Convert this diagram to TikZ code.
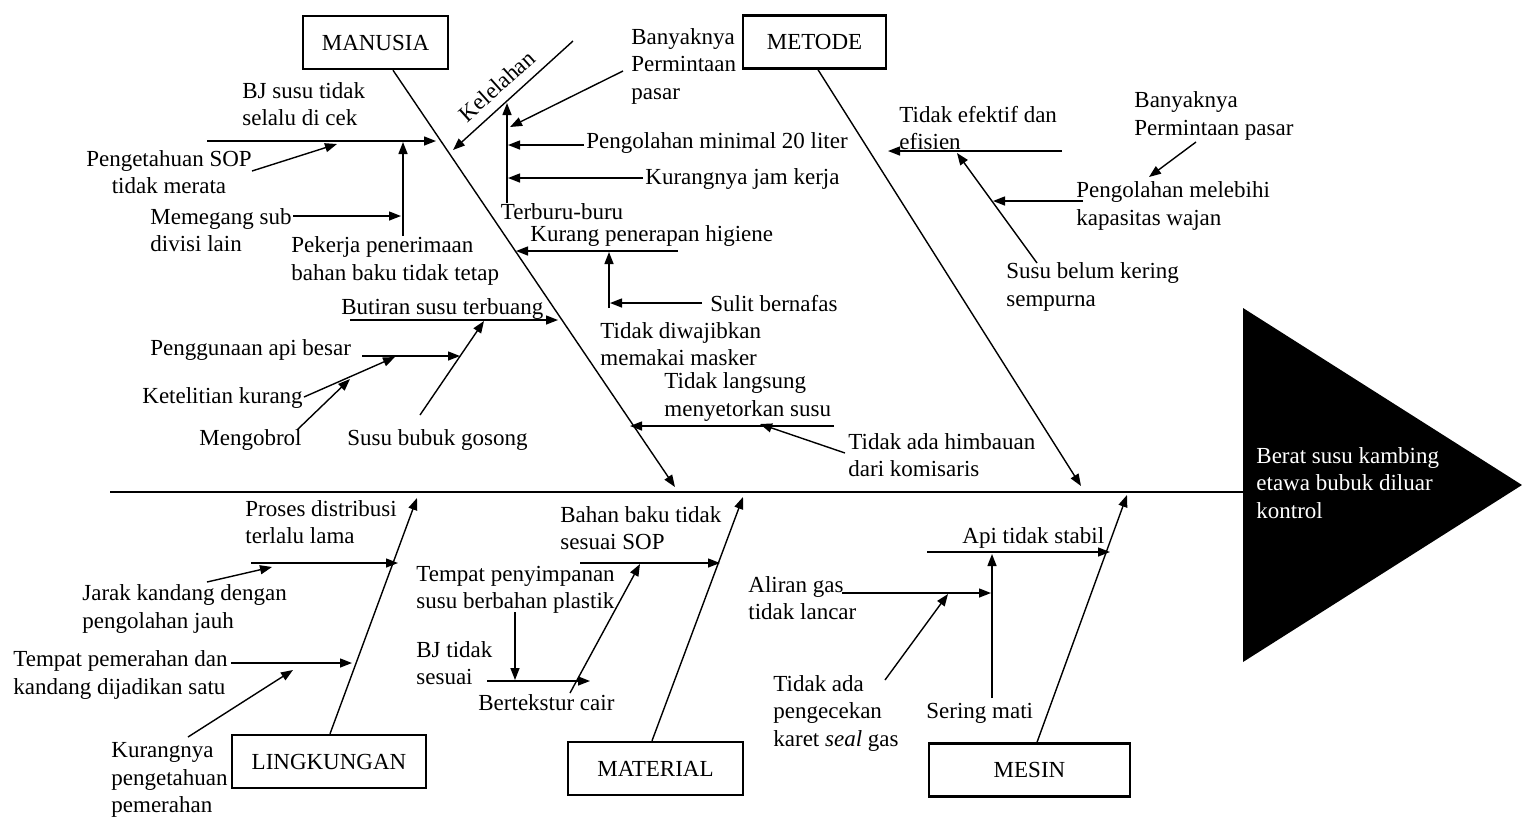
\documentclass[tikz,border=0pt]{standalone}
\usepackage{fontspec}
\setmainfont{Liberation Serif}
\usetikzlibrary{arrows.meta}
\begin{document}
\begin{tikzpicture}[x=0.5pt,y=-0.5pt,
  every node/.style={font=\fontsize{11.5}{13.75}\selectfont, inner sep=0pt},
  lbl/.style={anchor=west, align=left},
  cbox/.style={draw, line width=1.2pt, minimum height=26.5pt, inner sep=0pt},
  arr/.style={-{Triangle[length=6pt,width=4.5pt]}, line width=0.7pt},
  ln/.style={line width=0.7pt},
  spine/.style={line width=1pt}]
\useasboundingbox (0,0) rectangle (1522,816);

% ---------- head ----------
\fill (1243,308) coordinate (hT) -- (1522,485) coordinate (hR) -- (1243,662) coordinate (hB) -- cycle;
\coordinate (headW) at (1243,492);
\node[lbl, text=white] (effect) at (1256,483) {Berat susu kambing\\etawa bubuk diluar\\kontrol};
\coordinate (spineL) at (110,492);
\draw[spine] (spineL) -- (headW);

% ---------- category boxes ----------
\node[cbox, minimum width=72.5pt] (manusia) at (375.5,42.5) {MANUSIA};
\node[cbox, minimum width=71.5pt] (metode) at (814.5,42) {METODE};
\node[cbox, minimum width=97pt] (lingkungan) at (329,761.5) {LINGKUNGAN};
\node[cbox, minimum width=87.5pt] (material) at (655.5,768.5) {MATERIAL};
\node[cbox, minimum width=100.5pt] (mesin) at (1029.5,770) {MESIN};

% ---------- main bones ----------
\coordinate (manE) at (675,487);
\coordinate (metE) at (1081,486);
\coordinate (linE) at (417,498);
\coordinate (matE) at (743,497);
\coordinate (mesE) at (1127,495);
\draw[arr] ([xshift=8.75pt]manusia.south) -- (manE);
\draw[arr] ([xshift=1.75pt]metode.south) -- (metE);
\draw[arr] ([xshift=0.5pt]lingkungan.north) -- (linE);
\draw[arr] ([xshift=-1.75pt]material.north) -- (matE);
\draw[arr] ([xshift=3.75pt]mesin.north) -- (mesE);

% ================= MANUSIA =================
\node[lbl] (bj) at (242,104) {BJ susu tidak\\selalu di cek};
\coordinate (bjA) at (207,141); \coordinate (bjB) at (436,141);
\draw[arr] (bjA) -- (bjB);

\node[align=center] (sop) at (169,172) {Pengetahuan SOP\\tidak merata};
\coordinate (sopA) at (252,171); \coordinate (sopB) at (337,144);
\draw[arr] (sopA) -- (sopB);

\node[lbl] (memegang) at (150,230) {Memegang sub\\divisi lain};
\coordinate (memA) at (293,216); \coordinate (memB) at (401,216);
\draw[arr] (memA) -- (memB);

\node[lbl] (pekerja) at (291,261) {Pekerja penerimaan\\bahan baku tidak tetap};
\coordinate (pekA) at (403,236); \coordinate (pekB) at (403,142);
\draw[arr] (pekA) -- (pekB);

\coordinate (kelA) at (573,41); \coordinate (kelB) at (453,150);
\draw[arr] (kelA) -- (kelB);
\node[rotate=42] (kelelahan) at (497,86) {Kelelahan};

\node (terburu) at (562,212) {Terburu-buru};
\coordinate (terA) at (507,203); \coordinate (terB) at (507,103);
\draw[arr] (terA) -- (terB);

\node[lbl] (banyak1) at (631,66) {Banyaknya\\Permintaan\\pasar};
\coordinate (ban1A) at (623,71); \coordinate (ban1B) at (510,127);
\draw[arr] (ban1A) -- (ban1B);

\node[lbl] (pengmin) at (586,143) {Pengolahan minimal 20 liter};
\coordinate (pmA) at (584,145); \coordinate (pmB) at (508,145);
\draw[arr] (pmA) -- (pmB);

\node[lbl] (jamkerja) at (645,179) {Kurangnya jam kerja};
\coordinate (jkA) at (643,178); \coordinate (jkB) at (508,178);
\draw[arr] (jkA) -- (jkB);

\node[lbl] (higiene) at (530,236) {Kurang penerapan higiene};
\coordinate (higA) at (678,251); \coordinate (higB) at (516,251);
\draw[arr] (higA) -- (higB);

\coordinate (maskA) at (609,308); \coordinate (maskB) at (609,252);
\draw[arr] (maskA) -- (maskB);

\node[lbl] (sulit) at (710,304) {Sulit bernafas};
\coordinate (sulA) at (702,303); \coordinate (sulB) at (610,303);
\draw[arr] (sulA) -- (sulB);

\node[lbl] (wajib) at (600,344) {Tidak diwajibkan\\memakai masker};

\node[lbl] (butiran) at (341,309) {Butiran susu terbuang};
\coordinate (butA) at (350,320); \coordinate (butB) at (558,320);
\draw[arr] (butA) -- (butB);

\node[lbl] (api) at (150,350) {Penggunaan api besar};
\coordinate (apiA) at (362,356); \coordinate (apiB) at (460,356);
\draw[arr] (apiA) -- (apiB);

\node[lbl] (teliti) at (142,398) {Ketelitian kurang};
\coordinate (telA) at (304,397); \coordinate (telB) at (395,357);
\draw[arr] (telA) -- (telB);

\node[lbl] (ngobrol) at (199,440) {Mengobrol};
\coordinate (ngA) at (297,430); \coordinate (ngB) at (350,379);
\draw[arr] (ngA) -- (ngB);

\node[lbl] (gosong) at (347,440) {Susu bubuk gosong};
\coordinate (gosA) at (420,415); \coordinate (gosB) at (484,321);
\draw[arr] (gosA) -- (gosB);

\node[lbl] (langsung) at (664,397) {Tidak langsung\\menyetorkan susu};
\coordinate (lgA) at (834,426); \coordinate (lgB) at (630,426);
\draw[arr] (lgA) -- (lgB);

\node[lbl] (himbauan) at (848,455) {Tidak ada himbauan\\dari komisaris};
\coordinate (hiA) at (845,453); \coordinate (hiB) at (760,424);
\draw[arr] (hiA) -- (hiB);

% ================= METODE =================
\node[lbl] (efektif) at (899,128) {Tidak efektif dan\\efisien};
\coordinate (efA) at (1062,151); \coordinate (efB) at (888,151);
\draw[arr] (efA) -- (efB);

\node[lbl] (banyak2) at (1134,116) {Banyaknya\\Permintaan pasar};
\coordinate (ban2A) at (1196,142); \coordinate (ban2B) at (1149,177);
\draw[arr] (ban2A) -- (ban2B);

\node[lbl] (melebihi) at (1076,206) {Pengolahan melebihi\\kapasitas wajan};
\coordinate (melA) at (1083,201); \coordinate (melB) at (993,201);
\draw[arr] (melA) -- (melB);

\node[lbl] (kering) at (1006,287) {Susu belum kering\\sempurna};
\coordinate (kerA) at (1037,263); \coordinate (kerB) at (957,153);
\draw[arr] (kerA) -- (kerB);

% ================= LINGKUNGAN =================
\node[lbl] (distribusi) at (245,522) {Proses distribusi\\terlalu lama};
\coordinate (disA) at (251,563); \coordinate (disB) at (398,563);
\draw[arr] (disA) -- (disB);

\node[lbl] (jarak) at (82,609) {Jarak kandang dengan\\pengolahan jauh};
\coordinate (jarA) at (207,582); \coordinate (jarB) at (272,567);
\draw[arr] (jarA) -- (jarB);

\node[lbl] (pemerahan) at (13,675) {Tempat pemerahan dan\\kandang dijadikan satu};
\coordinate (pemA) at (231,663); \coordinate (pemB) at (352,663);
\draw[arr] (pemA) -- (pemB);

\node[lbl] (kurang) at (111,780) {Kurangnya\\pengetahuan\\pemerahan};
\coordinate (kurA) at (188,737); \coordinate (kurB) at (293,670);
\draw[arr] (kurA) -- (kurB);

% ================= MATERIAL =================
\node[lbl] (bahan) at (560,528) {Bahan baku tidak\\sesuai SOP};
\coordinate (bahA) at (580,563); \coordinate (bahB) at (720,563);
\draw[arr] (bahA) -- (bahB);

\node[lbl] (simpan) at (416,590) {Tempat penyimpanan\\susu berbahan plastik};
\coordinate (simA) at (515,612); \coordinate (simB) at (515,680);
\draw[arr] (simA) -- (simB);

\node[lbl] (bjtidak) at (416,663) {BJ tidak\\sesuai};
\coordinate (bjtA) at (487,681); \coordinate (bjtB) at (590,681);
\draw[arr] (bjtA) -- (bjtB);

\node[lbl] (cair) at (478,703) {Bertekstur cair};
\coordinate (caiA) at (570,693); \coordinate (caiB) at (640,564);
\draw[arr] (caiA) -- (caiB);

% ================= MESIN =================
\node[lbl] (stabil) at (962,538) {Api tidak stabil};
\coordinate (stA) at (927,552); \coordinate (stB) at (1110,552);
\draw[arr] (stA) -- (stB);

\coordinate (serA) at (992,698); \coordinate (serB) at (992,554);
\draw[arr] (serA) -- (serB);
\node[lbl] (sering) at (926,713) {Sering mati};

\node[lbl] (aliran) at (748,598) {Aliran gas\\tidak lancar};
\coordinate (alA) at (842,593); \coordinate (alB) at (991,593);
\draw[arr] (alA) -- (alB);

\node[lbl] (cek) at (773,713) {Tidak ada\\pengecekan\\karet \textit{seal} gas};
\coordinate (ckA) at (885,680); \coordinate (ckB) at (948,594);
\draw[arr] (ckA) -- (ckB);
\end{tikzpicture}
\end{document}
